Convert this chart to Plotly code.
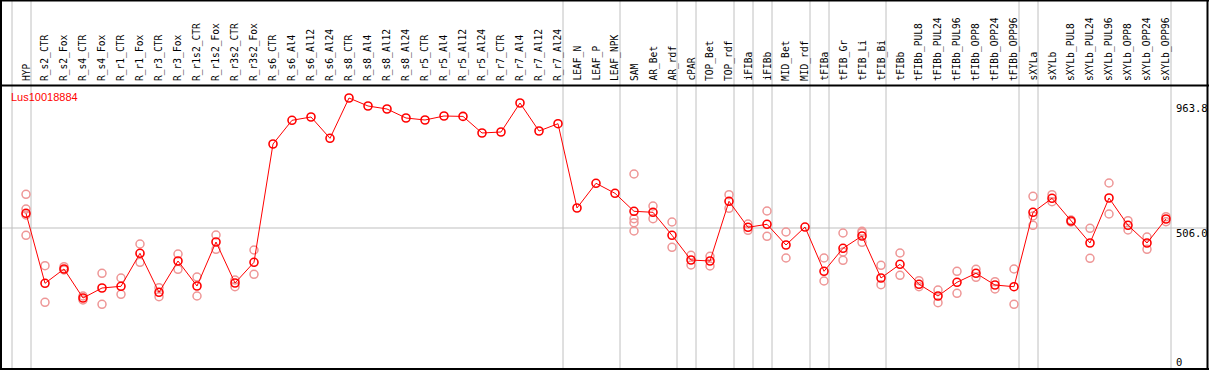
import plotly.graph_objects as go

W, H = 1209, 370

gene = "Lus10018884"

cols = ["HYP", "R_s2_CTR", "R_s2_Fox", "R_s4_CTR", "R_s4_Fox", "R_r1_CTR", "R_r1_Fox",
        "R_r3_CTR", "R_r3_Fox", "R_r1s2_CTR", "R_r1s2_Fox", "R_r3s2_CTR", "R_r3s2_Fox",
        "R_s6_CTR", "R_s6_Al4", "R_s6_Al12", "R_s6_Al24", "R_s8_CTR", "R_s8_Al4",
        "R_s8_Al12", "R_s8_Al24", "R_r5_CTR", "R_r5_Al4", "R_r5_Al12", "R_r5_Al24",
        "R_r7_CTR", "R_r7_Al4", "R_r7_Al12", "R_r7_Al24", "LEAF_N", "LEAF_P", "LEAF_NPK",
        "SAM", "AR_Bet", "AR_rdf", "cPAR", "TOP_Bet", "TOP_rdf", "iFIBa", "iFIBb",
        "MID_Bet", "MID_rdf", "tFIBa", "tFIB_Gr", "tFIB_Li", "tFIB_Bi", "tFIBb",
        "tFIBb_PUL8", "tFIBb_PUL24", "tFIBb_PUL96", "tFIBb_OPP8", "tFIBb_OPP24",
        "tFIBb_OPP96", "sXYLa", "sXYLb", "sXYLb_PUL8", "sXYLb_PUL24", "sXYLb_PUL96",
        "sXYLb_OPP8", "sXYLb_OPP24", "sXYLb_OPP96"]

means = [557.8, 311.3, 361.7, 259.5, 294.7, 300.7, 416.9, 279.6, 389.8, 301.8, 456.7,
         312.4, 385.3, 801.8, 885.3, 896.9, 821.9, 963.8, 935.7, 925.1, 893.4, 886.4,
         900.4, 899.0, 840.6, 844.1, 946.2, 847.6, 873.3, 576.5, 663.5, 628.2, 564.8,
         561.3, 480.3, 393.3, 389.8, 600.1, 508.5, 519.1, 446.2, 509.5, 353.6, 434.6,
         477.9, 330.0, 378.2, 307.8, 266.6, 314.8, 346.5, 305.3, 299.3, 561.3, 610.6,
         530.7, 453.2, 611.7, 515.5, 453.2, 537.7]

replicates = [
    [624.7, 572.9, 551.8, 480.3],   # HYP
    [373.3, 244.4],                 # R_s2_CTR
    [369.8, 358.1],                 # R_s2_Fox
    [266.6, 252.5],                 # R_s4_CTR
    [346.5, 237.3],                 # R_s4_Fox
    [330.0, 272.6],                 # R_r1_CTR
    [449.7, 385.3],                 # R_r1_Fox
    [295.8, 264.1],                 # R_r3_CTR
    [414.5, 360.6],                 # R_r3_Fox
    [333.5, 266.6],                 # R_r1s2_CTR
    [481.4, 431.0],                 # R_r1s2_Fox
    [322.9, 299.3],                 # R_r3s2_CTR
    [428.6, 343.0],                 # R_r3s2_Fox
    [], [], [], [], [], [], [], [], [], [], [], [], [], [], [], [],  # R_s6_CTR .. R_r7_Al24
    [], [], [],                     # LEAF_N, LEAF_P, LEAF_NPK
    [696.2, 538.8, 524.7, 495.5],   # SAM
    [583.5, 538.8],                 # AR_Bet
    [527.2, 438.1],                 # AR_rdf
    [409.9, 375.7],                 # cPAR
    [406.4, 372.2],                 # TOP_Bet
    [623.3, 575.4],                 # TOP_rdf
    [520.1, 497.9],                 # iFIBa
    [565.9, 476.8],                 # iFIBb
    [492.0, 400.4],                 # MID_Bet
    [],                             # MID_rdf
    [400.4, 319.4],                 # tFIBa
    [488.4, 421.5, 392.3],          # tFIB_Gr
    [494.4, 489.5, 455.7],          # tFIB_Li
    [374.7, 306.4],                 # tFIB_Bi
    [418.0, 339.5],                 # tFIBb
    [320.5, 299.3],                 # tFIBb_PUL8
    [287.7, 243.0],                 # tFIBb_PUL24
    [353.6, 276.1],                 # tFIBb_PUL96
    [360.6, 332.4],                 # tFIBb_OPP8
    [316.9, 291.2],                 # tFIBb_OPP24
    [361.7, 237.3],                 # tFIBb_OPP96
    [617.7, 548.3, 515.5],          # sXYLa
    [623.3, 598.7],                 # sXYLb
    [534.2, 527.2],                 # sXYLb_PUL8
    [505.0, 399.3],                 # sXYLb_PUL24
    [664.5, 555.3],                 # sXYLb_PUL96
    [531.7, 499.0],                 # sXYLb_OPP8
    [474.3, 431.0],                 # sXYLb_OPP24
    [545.8, 528.2],                 # sXYLb_OPP96
]

# group separators: drawn just after these column indices
group_ends = [-1, 0, 28, 31, 34, 35, 37, 38, 39, 41, 42, 45, 52, 53, 60]

y_label_text = ["963.8", "506.0", "0"]
y_label_vals = [963.8, 506.0, 0.0]
ref_value = 506.0

# ---- geometry ----
PX = 19.0      # pixels per column
X0 = 26.0      # pixel x of first column
x_range = [-X0 / PX, (W - X0) / PX]
Y_ZERO_PX = 371.7
V_PER_PX = 3.5215
y_range = [(Y_ZERO_PX - H) * V_PER_PX, Y_ZERO_PX * V_PER_PX]

def py(p):  # pixel y (from top) -> paper
    return 1 - p / H

def pxp(p):  # pixel x -> paper
    return p / W

rep_x, rep_y = [], []
for i, vals in enumerate(replicates):
    for v in vals:
        rep_x.append(i)
        rep_y.append(v)

fig = go.Figure()
fig.add_trace(go.Scatter(
    x=rep_x, y=rep_y, mode="markers",
    marker=dict(symbol="circle-open", size=8, color="rgb(238,150,150)",
                line=dict(width=1.5, color="rgb(238,150,150)")),
    hoverinfo="skip", showlegend=False))
fig.add_trace(go.Scatter(
    x=list(range(len(cols))), y=means, mode="lines+markers",
    line=dict(color="#ff0000", width=1),
    marker=dict(symbol="circle-open", size=8, color="#ff0000",
                line=dict(width=1.6, color="#ff0000")),
    showlegend=False))

shapes = []
for e in group_ends:
    xv = e + 5.0 / PX
    shapes.append(dict(type="line", xref="x", yref="paper", x0=xv, x1=xv, y0=0, y1=1,
                       line=dict(color="#c0c0c0", width=1), layer="below"))
shapes.append(dict(type="line", xref="paper", yref="y", x0=pxp(1), x1=pxp(1207),
                   y0=ref_value, y1=ref_value, line=dict(color="#c0c0c0", width=1.2),
                   layer="below"))
# black borders
blk = dict(color="black", width=2)
shapes += [
    dict(type="line", xref="paper", yref="paper", x0=0, x1=1, y0=py(0.5), y1=py(0.5), line=blk),
    dict(type="line", xref="paper", yref="paper", x0=0, x1=1, y0=py(85.5), y1=py(85.5), line=blk),
    dict(type="line", xref="paper", yref="paper", x0=0, x1=1, y0=py(369), y1=py(369), line=blk),
    dict(type="line", xref="paper", yref="paper", x0=pxp(1), x1=pxp(1), y0=0, y1=1, line=blk),
    dict(type="line", xref="paper", yref="paper", x0=pxp(1207.5), x1=pxp(1207.5), y0=0, y1=1, line=blk),
]

annotations = []
for i, c in enumerate(cols):
    annotations.append(dict(x=i, xref="x", y=py(83), yref="paper", text=c,
                            textangle=-90, showarrow=False, xanchor="center",
                            yanchor="bottom", font=dict(family="DejaVu Sans Mono", size=9.6,
                                                        color="black")))
annotations.append(dict(x=pxp(9), xref="paper", y=py(97), yref="paper", text=gene,
                        showarrow=False, xanchor="left", yanchor="middle",
                        font=dict(family="Liberation Sans", size=11, color="#ff0000")))
# value labels on the right: placed at the value's pixel row, nudged as in the reference
shifts = [10, 4.7, -9.7]
for t, v, s in zip(y_label_text, y_label_vals, shifts):
    ypx = Y_ZERO_PX - v / V_PER_PX + s
    annotations.append(dict(x=pxp(1174), xref="paper", y=py(ypx), yref="paper", text=t,
                            showarrow=False, xanchor="left", yanchor="middle",
                            font=dict(family="DejaVu Sans Mono", size=10.5, color="black")))

fig.update_layout(
    width=W, height=H, autosize=False,
    margin=dict(l=0, r=0, t=0, b=0, pad=0),
    paper_bgcolor="white", plot_bgcolor="white",
    xaxis=dict(range=x_range, visible=False, fixedrange=True),
    yaxis=dict(range=y_range, visible=False, fixedrange=True),
    shapes=shapes, annotations=annotations,
)

fig.write_html("out.html",
               config={"displayModeBar": False},
               post_script="document.body.style.margin='0';"
                           "document.body.style.overflow='hidden';")
